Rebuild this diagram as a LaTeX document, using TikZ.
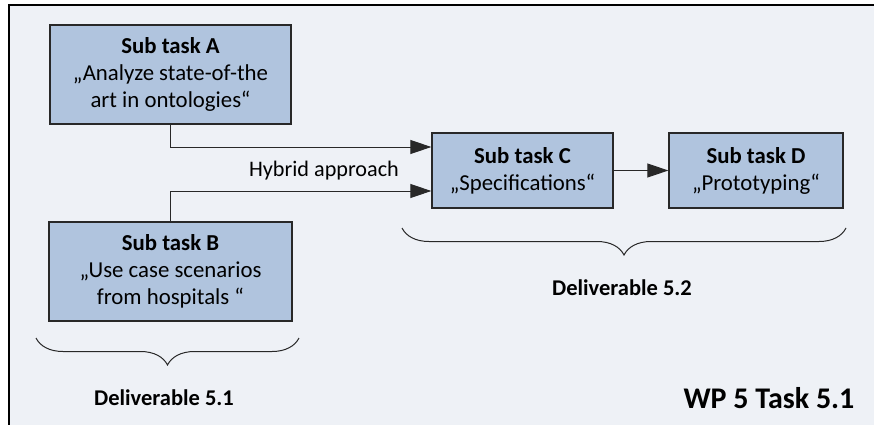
\documentclass[tikz,border=0pt]{standalone}
\usepackage{fontspec}
\setmainfont{Carlito}
\usetikzlibrary{arrows.meta,decorations.pathreplacing,calc}
\definecolor{bgc}{RGB}{238,241,246}
\definecolor{boxc}{RGB}{176,196,222}
\definecolor{linec}{RGB}{40,40,40}
\tikzset{
  taskbox/.style={draw=linec, line width=1.3pt, fill=boxc, align=center,
    inner sep=0pt, font=\fontsize{22.8}{27}\selectfont, text=black},
  arr/.style={draw=linec, line width=1pt, -{Triangle[length=21pt,width=14pt]}},
  bracestyle/.style={draw=linec, line width=1pt,
    decorate, decoration={brace, mirror, amplitude=27pt}},
  lbl/.style={font=\fontsize{22.2}{26}\selectfont, text=black},
  dlbl/.style={font=\fontsize{22.5}{26}\selectfont\bfseries, text=black}
}
\begin{document}
\begin{tikzpicture}[x=1pt,y=-1pt]
\useasboundingbox (0,0) rectangle (874,425);
\fill[bgc] (9,5) rectangle (874,425);
\draw[black, line width=2.5pt] (874,5) -- (9,5) -- (9,425);

\node[taskbox, minimum width=241pt, minimum height=99pt] (A) at (170.5,74.5)
  {\textbf{Sub task A}\\„Analyze state-of-the\\art in ontologies“};
\node[taskbox, minimum width=243pt, minimum height=99pt] (B) at (170.5,271.5)
  {\textbf{Sub task B}\\„Use case scenarios\\from hospitals “};
\node[taskbox, minimum width=181pt, minimum height=75pt] (C) at (522.5,170.5)
  {\textbf{Sub task C}\\„Specifications“};
\node[taskbox, minimum width=174pt, minimum height=75pt] (D) at (756,170.5)
  {\textbf{Sub task D}\\„Prototyping“};

\draw[arr] (A.south) |- ([yshift=23.5pt]C.west);
\draw[arr] (B.north) |- ([yshift=-20.5pt]C.west);
\draw[arr] (C.east) -- (D.west);

\node[lbl] (hy) at (324,171) {Hybrid approach};

\coordinate (b1l) at (36,338);
\coordinate (b1r) at (299,338);
\coordinate (b2l) at (402,228);
\coordinate (b2r) at (846,228);
\draw[bracestyle] (b1l) -- (b1r);
\draw[bracestyle] (b2l) -- (b2r);

\node[dlbl] (d1) at (164,398) {Deliverable 5.1};
\node[dlbl] (d2) at (622,288) {Deliverable 5.2};
\node[font=\fontsize{30}{34}\selectfont\bfseries] (wp) at (769,398) {WP 5 Task 5.1};
\end{tikzpicture}
\end{document}
